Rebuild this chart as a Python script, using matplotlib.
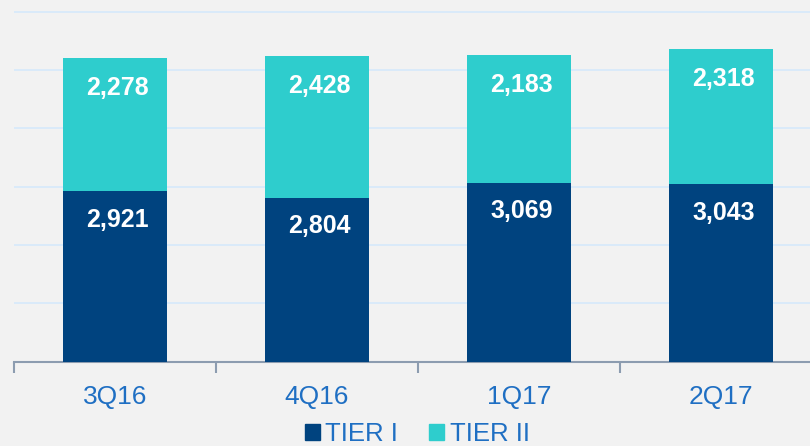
import matplotlib.pyplot as plt
from matplotlib.patches import Patch

# datos
trimestres = ["3Q16", "4Q16", "1Q17", "2Q17"]
tier1 = [2921, 2804, 3069, 3043]
tier2 = [2278, 2428, 2183, 2318]

azul = "#00437f"
turquesa = "#2ecdcd"
fondo = "#f2f2f2"
texto_azul = "#1f6fc3"

plt.rcParams["font.family"] = ["Liberation Sans", "DejaVu Sans"]

fig = plt.figure(figsize=(8.1, 4.46), dpi=100, facecolor=fondo)
ax = fig.add_axes([14 / 810, 1 - 361.5 / 446, 808 / 810, 361.5 / 446])
ax.set_facecolor(fondo)

x = range(len(trimestres))
ax.bar(x, tier1, width=0.515, color=azul, zorder=3)
ax.bar(x, tier2, width=0.515, bottom=tier1, color=turquesa, zorder=3)

# etiquetas de valores dentro de las barras
for i in x:
    ax.annotate(f"{tier1[i]:,}", xy=(i, tier1[i]), xytext=(2, -20.5), textcoords="offset points",
                ha="center", va="center", color="white", fontsize=18, fontweight="bold", zorder=4)
    total = tier1[i] + tier2[i]
    ax.annotate(f"{tier2[i]:,}", xy=(i, total), xytext=(2, -21.5), textcoords="offset points",
                ha="center", va="center", color="white", fontsize=18, fontweight="bold", zorder=4)

ax.set_xlim(-0.5, 3.5)
ax.set_ylim(0, 6200)
ax.set_yticks([1000, 2000, 3000, 4000, 5000, 6000])
ax.yaxis.grid(True, color="#d8eafa", linewidth=1.3, zorder=0)
ax.tick_params(axis="y", left=False, labelleft=False)

# marcas en los limites de categoria, nombres en el centro
ax.set_xticks([-0.5, 0.5, 1.5, 2.5, 3.5])
ax.set_xticklabels([])
ax.tick_params(axis="x", which="major", length=8, width=1.5, color="#8c9cb0")
ax.set_xticks(list(x), minor=True)
ax.set_xticklabels(trimestres, minor=True, fontsize=19, color=texto_azul)
ax.tick_params(axis="x", which="minor", length=0, pad=17)

for s in ["top", "right", "left"]:
    ax.spines[s].set_visible(False)
ax.spines["bottom"].set_color("#8c9cb0")
ax.spines["bottom"].set_linewidth(1.5)

handles = [Patch(color=azul, label="TIER I"), Patch(color=turquesa, label="TIER II")]
leg = fig.legend(handles=handles, loc="center", bbox_to_anchor=(0.515, 0.027), ncol=2, frameon=False,
                 fontsize=18.5, handlelength=0.6, handleheight=0.6, handletextpad=0.2, columnspacing=1.2,
                 borderpad=0)
for t in leg.get_texts():
    t.set_color(texto_azul)

fig.savefig("out.png", dpi=100, facecolor=fondo)
